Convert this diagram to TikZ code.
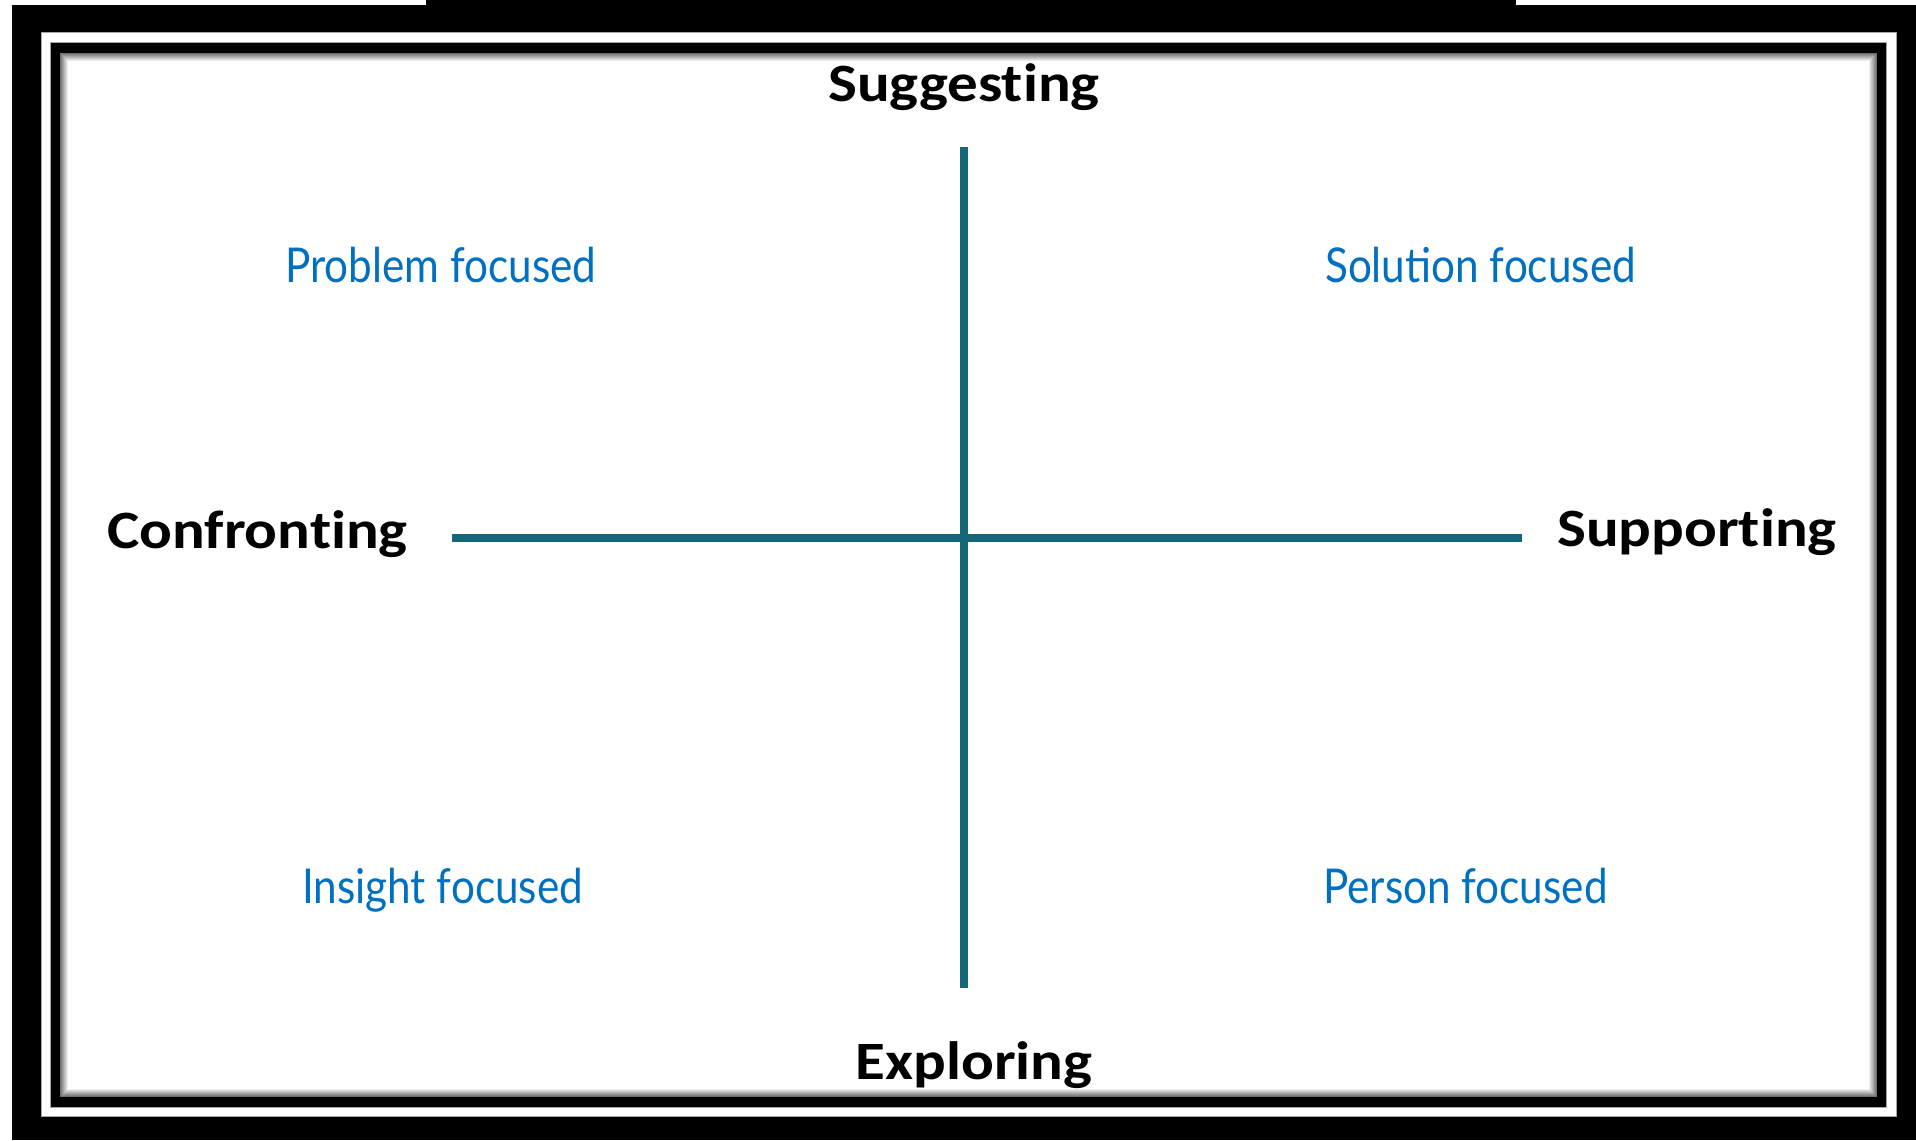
\documentclass[tikz,border=0pt]{standalone}
\usepackage{fontspec}
\setmainfont{Carlito}
\newfontfamily\axisfont{Carlito}[FakeStretch=1.13,Ligatures=NoCommon]
\newfontfamily\quadfont{Lato}[FakeStretch=0.88]
\usepackage{tikz}
\usepackage{color}

\definecolor{axisteal}{RGB}{22,102,122}
\definecolor{quadblue}{RGB}{0,112,192}

\tikzset{
  axislabel/.style={inner sep=0pt,font=\axisfont\bfseries\fontsize{54}{62}\selectfont,text=black},
  quadlabel/.style={inner sep=0pt,font=\quadfont\fontsize{48}{56}\selectfont,text=quadblue},
  axisline/.style={draw=axisteal,line width=8pt}
}

\begin{document}
\begin{tikzpicture}[x=1pt,y=-1pt]
\useasboundingbox (0,0) rectangle (1916,1140);
% frame
\fill[black] (12,5) rectangle (1916,1140);
\fill[black] (426,0) rectangle (1516,5);
\filldraw[fill=white,draw=gray!70,line width=1pt] (41,33) rectangle (1896,1116);
\filldraw[fill=black,draw=gray!70,line width=1pt] (50,43) rectangle (1886,1107);
\fill[white] (60,53) rectangle (1877,1097);
\foreach \i in {0,...,7}
  \draw[black,opacity=0.07*(8-\i),line width=1pt] (60.5+\i,53.5+\i) rectangle (1876.5-\i,1096.5-\i);
% axes
\coordinate (top) at (964,147);
\coordinate (bot) at (964,988);
\coordinate (lft) at (452,538);
\coordinate (rgt) at (1522,538);
\draw[axisline] (top) -- (bot);
\draw[axisline] (lft) -- (rgt);
% axis labels
\node[axislabel,anchor=base] (sugg) at (964,101) {Suggesting};
\node[axislabel,anchor=base] (expl) at (974,1079) {Exploring};
\node[axislabel,anchor=base west] (conf) at (107,548) {Confronting};
\node[axislabel,anchor=base west] (supp) at (1557,546) {Supporting};
% quadrants
\node[quadlabel,anchor=base west] (prob) at (285,282) {Problem focused};
\node[quadlabel,anchor=base west] (solu) at (1325,282) {Solution focused};
\node[quadlabel,anchor=base west] (insi) at (302,903) {Insight focused};
\node[quadlabel,anchor=base west] (pers) at (1323,903) {Person focused};
\end{tikzpicture}
\end{document}
